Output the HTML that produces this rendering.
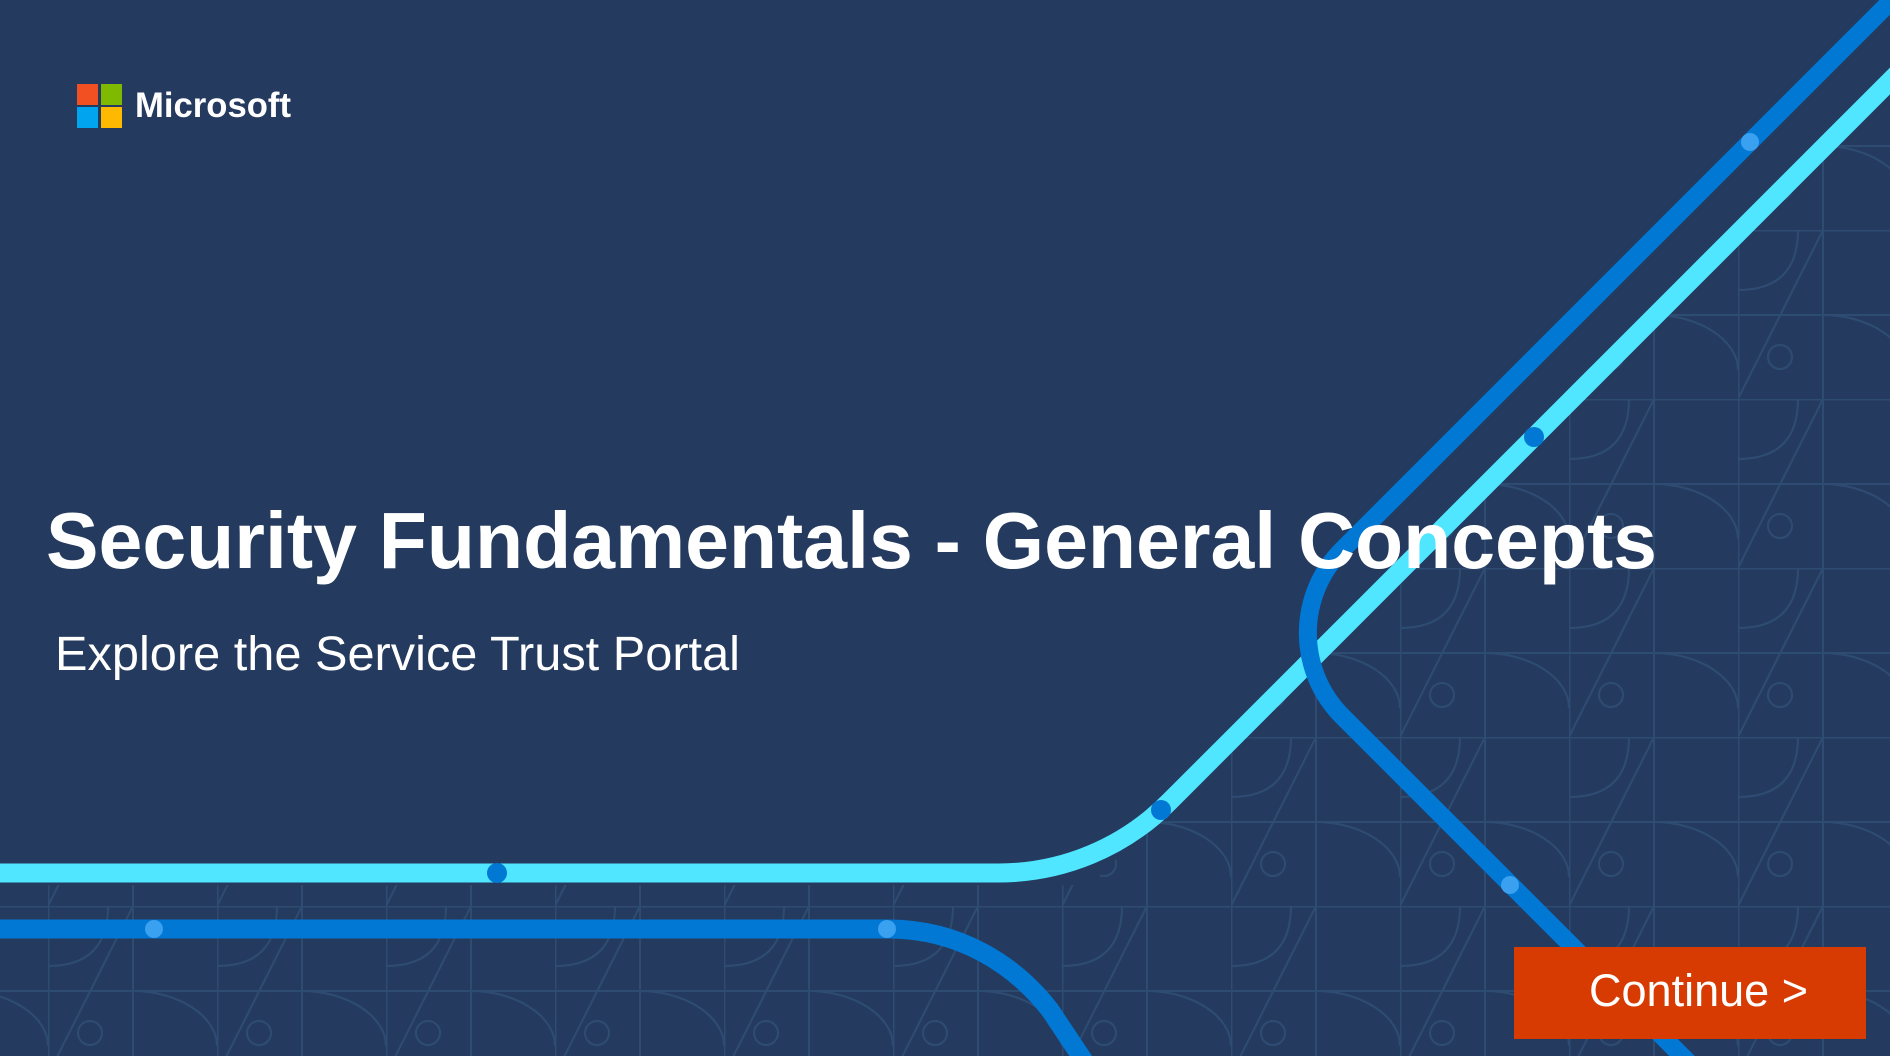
<!DOCTYPE html>
<html><head><meta charset="utf-8"><style>
html,body{margin:0;padding:0;background:#243a5e;width:1890px;height:1056px;overflow:hidden;}
svg{display:block}
</style></head><body>
<svg width="1890" height="1056" viewBox="0 0 1890 1056" xmlns="http://www.w3.org/2000/svg">
<defs>
<pattern id="g" patternUnits="userSpaceOnUse" x="48" y="61" width="169" height="169">
<g fill="none" stroke="#2e4c72" stroke-width="2">
<path d="M0 0.5H169M0 85H169M0.5 0V169M85 0V169"/>
<path d="M0 169L85 0"/>
<path d="M85 85 C130 85 169 110 169 140"/>
<circle cx="42" cy="127" r="12"/>
<path d="M0 60 C40 60 60 40 60 0"/>
</g>
</pattern>
<clipPath id="c"><polygon points="0,885 1090,885 1890,85 1890,1056 0,1056"/></clipPath>
</defs>
<rect width="1890" height="1056" fill="#243a5e"/>
<rect width="1890" height="1056" fill="url(#g)" clip-path="url(#c)"/>
<path d="M-20 873 H998 A240 240 0 0 0 1169 802 L1990 -19" fill="none" stroke="#50e6ff" stroke-width="19"/>
<path d="M1960 -68 L1342 550 A118 118 0 0 0 1342 716 L1700 1074" fill="none" stroke="#0078d4" stroke-width="18"/>
<path d="M-20 929 H888 C960 929 1015 965 1050 1010 L1090 1070" fill="none" stroke="#0078d4" stroke-width="19"/>
<circle cx="497" cy="873" r="10" fill="#0078d4"/>
<circle cx="1161" cy="810" r="10" fill="#0078d4"/>
<circle cx="1534" cy="437" r="10" fill="#0078d4"/>
<circle cx="1750" cy="142" r="9" fill="#3aa0f0"/>
<circle cx="1510" cy="885" r="9" fill="#3aa0f0"/>
<circle cx="154" cy="929" r="9" fill="#3aa0f0"/>
<circle cx="887" cy="929" r="9" fill="#3aa0f0"/>
<rect x="77" y="84" width="21" height="21" fill="#f25022"/>
<rect x="101" y="84" width="21" height="21" fill="#7fba00"/>
<rect x="77" y="107" width="21" height="21" fill="#00a4ef"/>
<rect x="101" y="107" width="21" height="21" fill="#ffb900"/>
<text x="135" y="117" font-family="Liberation Sans, sans-serif" font-size="35" font-weight="bold" fill="#fff" textLength="156" lengthAdjust="spacingAndGlyphs">Microsoft</text>
<text x="46" y="568" font-family="Liberation Sans, sans-serif" font-size="80" font-weight="bold" fill="#fff" textLength="1611" lengthAdjust="spacingAndGlyphs">Security Fundamentals - General Concepts</text>
<text x="55" y="670" font-family="Liberation Sans, sans-serif" font-size="48" fill="#fff" textLength="685" lengthAdjust="spacingAndGlyphs">Explore the Service Trust Portal</text>
<rect x="1514" y="947" width="352" height="92" fill="#d83b01"/>
<text x="1589" y="1006" font-family="Liberation Sans, sans-serif" font-size="45" fill="#fff" textLength="219" lengthAdjust="spacingAndGlyphs">Continue &gt;</text>
</svg>
</body></html>
